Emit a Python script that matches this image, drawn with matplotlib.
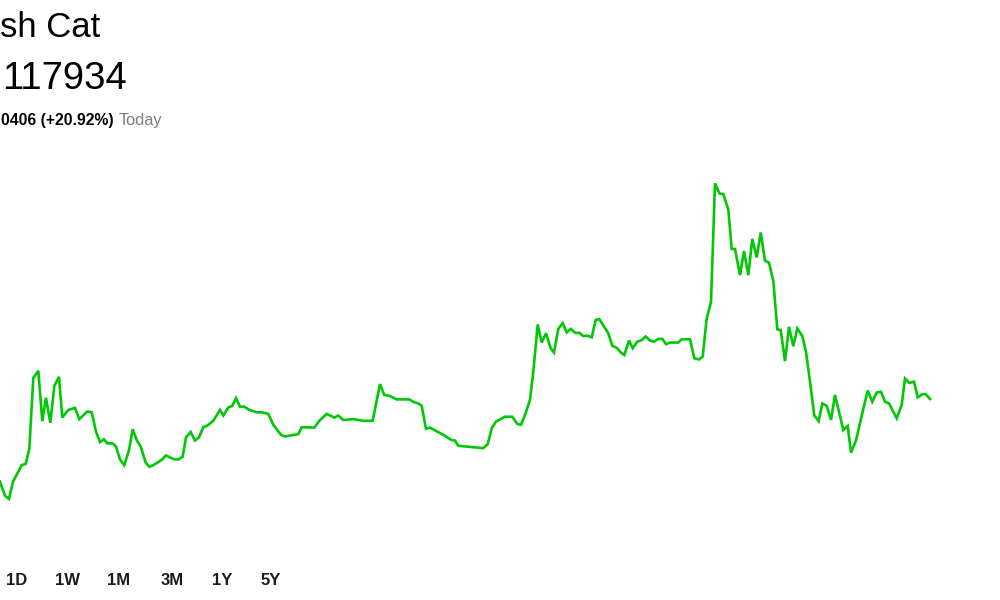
import matplotlib.pyplot as plt

# prix en micro-dollars (1e-6 $), position horizontale dans la journée
t = [0, 5, 9, 13, 21.7, 25.7, 29.3, 33.3, 38.3, 42.3, 46, 50.3, 54.3, 59, 62.3, 68.3, 75, 79.3,
     87.3, 91.7, 96, 100, 104, 107.3, 112.7, 116, 120, 124.3, 129, 132.7, 136.7, 140.7, 145.7,
     149.3, 153.3, 161.7, 166, 173.3, 178.3, 182.7, 186, 190.7, 195, 199, 203.3, 207.3, 213.3,
     220, 223.3, 228.3, 232.3, 236, 240, 244.3, 249.3, 256.7, 261.7, 268.3, 273.3, 281, 285,
     298.3, 301.7, 314.3, 319, 326.7, 334.3, 338.3, 343.3, 353.3, 363.3, 372.7, 380, 384.3,
     389.3, 396.7, 409.3, 414, 418.3, 421.7, 426, 430, 443.3, 451.7, 455, 458.3, 483.3, 487.7,
     491.7, 496, 505, 512.3, 517.3, 521, 525.7, 530, 533.3, 537.7, 541.7, 546, 550.7, 554,
     558.3, 562.7, 566.7, 570.7, 575, 579.3, 583.3, 587.3, 591.7, 595.7, 599.3, 608.3, 612.3,
     616.7, 620.7, 624.3, 629, 632.7, 637.3, 641.7, 645.7, 650, 654, 658.3, 662.3, 666, 670,
     678.3, 681.7, 690, 694.3, 699, 702.7, 706.7, 711, 715, 719.3, 723.3, 728.3, 731.7, 735,
     740, 744, 748.3, 752.3, 756.7, 760.7, 765, 769, 773.3, 777.3, 780.7, 785, 789, 793.3,
     797.3, 802.3, 806, 810, 814.3, 818.7, 822.3, 826.7, 831, 835, 839.3, 843.3, 847.7, 851,
     856, 862.7, 867.7, 872.3, 876.7, 881, 885, 889, 896.7, 901.7, 905, 909.3, 914, 917.7,
     922.3, 925.7, 930]
price = [974, 939, 931, 974, 1015, 1018, 1055, 1231, 1249, 1124, 1182, 1120, 1211, 1234, 1133,
         1152, 1157, 1129, 1148, 1146, 1098, 1072, 1079, 1069, 1069, 1061, 1029, 1015, 1052,
         1104, 1077, 1061, 1021, 1011, 1015, 1028, 1039, 1030, 1029, 1036, 1084, 1097, 1076,
         1084, 1109, 1113, 1125, 1152, 1138, 1158, 1162, 1181, 1160, 1160, 1152, 1146, 1146,
         1142, 1115, 1090, 1086, 1092, 1109, 1108, 1124, 1142, 1133, 1138, 1127, 1129, 1125,
         1125, 1216, 1189, 1187, 1178, 1178, 1171, 1168, 1162, 1105, 1108, 1090, 1077, 1076,
         1063, 1057, 1067, 1106, 1123, 1135, 1135, 1117, 1115, 1144, 1177, 1247, 1364, 1319,
         1342, 1305, 1294, 1353, 1367, 1344, 1353, 1343, 1343, 1335, 1336, 1332, 1375, 1377,
         1342, 1311, 1306, 1295, 1288, 1324, 1305, 1321, 1325, 1334, 1324, 1321, 1328, 1328,
         1315, 1319, 1319, 1327, 1327, 1280, 1277, 1284, 1379, 1419, 1714, 1689, 1687, 1649,
         1551, 1551, 1486, 1546, 1486, 1576, 1530, 1592, 1522, 1517, 1472, 1352, 1350, 1273,
         1358, 1310, 1354, 1335, 1296, 1222, 1138, 1124, 1168, 1162, 1127, 1189, 1144, 1102,
         1112, 1046, 1076, 1148, 1200, 1172, 1195, 1197, 1172, 1168, 1131, 1164, 1230, 1219,
         1222, 1183, 1191, 1191, 1179]

name = "sh Cat"
price_txt = "117934"
change_txt = "0406 (+20.92%)"
periods = ['1D', '1W', '1M', '3M', '1Y', '5Y']
period_x = [17, 67, 119, 172, 222, 271]

fig = plt.figure(figsize=(10, 6), dpi=100)
ax = fig.add_axes([0, 0, 1, 1])
ax.plot(t, price, color='#00C805', linewidth=1.9, solid_joinstyle='miter')
ax.set_xlim(0, 1000)
ax.set_ylim(680.5, 2168.5)
ax.axis('off')

font = 'Liberation Sans'
fig.text(0.5 / 1000, 1 - 37 / 600, name, fontsize=25, family=font, va='baseline', ha='left')
fig.text(2 / 1000, 1 - 89 / 600, price_txt, fontsize=27.5, family=font, va='baseline', ha='left')
fig.text(1 / 1000, 1 - 125 / 600, change_txt, fontsize=11.3, family=font, weight='bold',
         va='baseline', ha='left')
fig.text(119 / 1000, 1 - 125 / 600, 'Today', fontsize=11.8, family=font, color='#7d7d7d',
         va='baseline', ha='left')

for lab, x in zip(periods, period_x):
    fig.text(x / 1000, 1 - 585 / 600, lab, fontsize=12,
             family=font, weight='bold', va='baseline', ha='center', color='#1b1b1b')

fig.savefig('out.png', dpi=100)
